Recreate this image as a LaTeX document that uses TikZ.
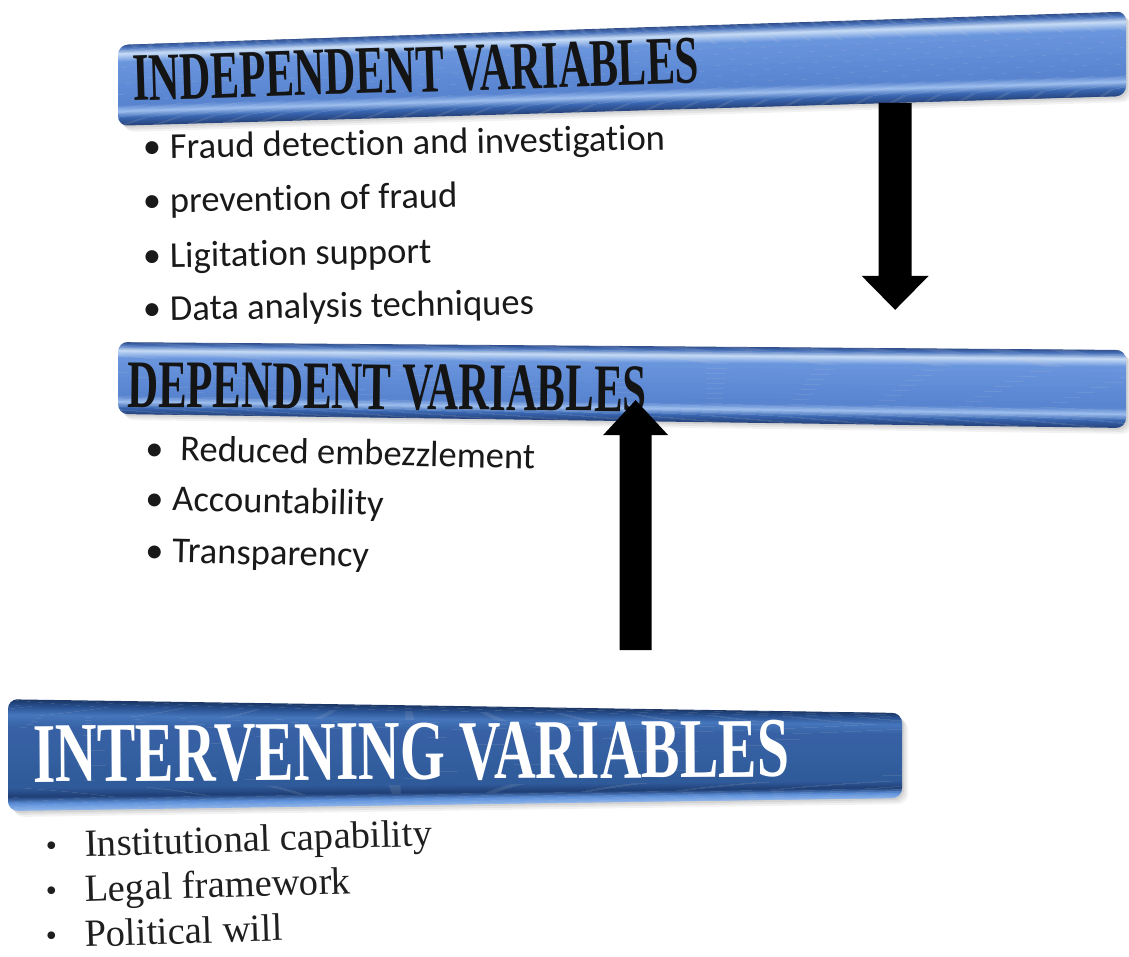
\documentclass[tikz,border=0pt]{standalone}
\usepackage{fontspec}
\usetikzlibrary{calc}
\setmainfont{Liberation Serif}
\newfontfamily\headfont{Liberation Serif}[FakeStretch=0.63]
\newfontfamily\bigheadfont{Liberation Serif}[FakeStretch=0.68]
\newfontfamily\bodysans{Carlito}[Ligatures=NoCommon]

% light blue bars
\definecolor{ibEdge}{HTML}{2E4B86}
\definecolor{ibDark}{HTML}{4A74BC}
\definecolor{ibHi}{HTML}{C8DDF7}
\definecolor{ibBody}{HTML}{6A96DE}
\definecolor{ibBodyB}{HTML}{5783CF}
\definecolor{ibHiB}{HTML}{9DBFEF}
\definecolor{ibLow}{HTML}{3A67B3}
\definecolor{ibEdgeB}{HTML}{27457E}
% dark blue bar
\definecolor{vEdge}{HTML}{1A3563}
\definecolor{vDark}{HTML}{28508F}
\definecolor{vHi}{HTML}{4676BD}
\definecolor{vBody}{HTML}{3762A5}
\definecolor{vBodyB}{HTML}{305A9A}
\definecolor{vLow}{HTML}{1F3F75}
\definecolor{vRim}{HTML}{5D90DA}
\definecolor{vRimB}{HTML}{8DB4EA}

\tikzset{
  bartitle/.style={anchor=base west, inner sep=0pt,
    font=\headfont\bfseries\fontsize{68}{68}\selectfont, text=black!92},
  bigtitle/.style={anchor=base west, inner sep=0pt,
    font=\bigheadfont\bfseries\fontsize{85}{85}\selectfont, text=white},
  sansitem/.style={anchor=base west, inner sep=0pt,
    font=\bodysans\fontsize{36.5}{36.5}\selectfont, text=black!90},
  serifitem/.style={anchor=base west, inner sep=0pt,
    font=\fontsize{38.5}{38.5}\selectfont, text=black!88},
}

% Bar with a bevelled look: bands following the slanted edges.
% #1..#4 = corners TL, TR, BR, BL; #5 = list of t0/t1/colour0/colour1
\newcommand\shadebar[5]{%
  \begin{scope}
    \clip[rounded corners=10pt] (#1) -- (#2) -- (#3) -- (#4) -- cycle;
    \foreach \ta/\tb/\ca/\cb in {#5} {
      \foreach \k in {0,...,7} {
        \pgfmathsetmacro\sa{\ta+(\tb-\ta)*\k/8}
        \pgfmathsetmacro\sb{\ta+(\tb-\ta)*(\k+1)/8+0.004}
        \pgfmathsetmacro\pc{100*(\k+0.5)/8}
        \fill[\cb!\pc!\ca]
          ($(#1)!\sa!(#4)+(-20,0)$) -- ($(#2)!\sa!(#3)+(20,0)$) --
          ($(#2)!\sb!(#3)+(20,0)$) -- ($(#1)!\sb!(#4)+(-20,0)$) -- cycle;
      }
    }
  \end{scope}
}

% Block arrow from #1 to #2: half shaft width #3, half head width #4, head length #5
\newcommand\blockarrow[5]{%
  \coordinate (ba-h) at ($(#2)!#5!(#1)$);
  \fill[black]
    ($(#1)!#3!90:(#2)$) -- ($(ba-h)!#3!-90:(#1)$) -- ($(ba-h)!#4!-90:(#1)$) --
    (#2) -- ($(ba-h)!#4!90:(#1)$) -- ($(ba-h)!#3!90:(#1)$) --
    ($(#1)!#3!-90:(#2)$) -- cycle;
}

\newcommand\sbul{\makebox[27pt][l]{•}}
\newcommand\rbul{\makebox[39pt][l]{\raisebox{2pt}{\fontsize{32}{32}\selectfont •}}}

\begin{document}
\begin{tikzpicture}[x=1pt,y=-1pt]
\useasboundingbox (0,0) rectangle (1129,957);
\fill[white] (0,0) rectangle (1129,957);

% ---------- bar corners ----------
\coordinate (iTL) at (118,45);  \coordinate (iTR) at (1126,11);
\coordinate (iBR) at (1126,96); \coordinate (iBL) at (118,126);
\coordinate (dTL) at (118,342); \coordinate (dTR) at (1126,350);
\coordinate (dBR) at (1126,428);\coordinate (dBL) at (118,414);
\coordinate (vTL) at (8,699);   \coordinate (vTR) at (902,713);
\coordinate (vBR) at (902,798); \coordinate (vBL) at (8,811);

% soft shadows
\foreach \o/\op in {6/0.05,4/0.06,2/0.07} {
  \fill[black, opacity=\op, rounded corners=10pt]
    ($(iTL)+(\o,\o)$) -- ($(iTR)+(\o,\o)$) -- ($(iBR)+(\o,\o)$) -- ($(iBL)+(\o,\o)$) -- cycle;
  \fill[black, opacity=\op, rounded corners=10pt]
    ($(dTL)+(\o,\o)$) -- ($(dTR)+(\o,\o)$) -- ($(dBR)+(\o,\o)$) -- ($(dBL)+(\o,\o)$) -- cycle;
  \fill[black, opacity=\op, rounded corners=10pt]
    ($(vTL)+(\o,\o)$) -- ($(vTR)+(\o,\o)$) -- ($(vBR)+(\o,\o)$) -- ($(vBL)+(\o,\o)$) -- cycle;
}

% ---------- bars ----------
\shadebar{iTL}{iTR}{iBR}{iBL}{0/0.05/ibEdge/ibDark, 0.05/0.12/ibDark/ibHi,
  0.12/0.22/ibHi/ibBody, 0.22/0.75/ibBody/ibBodyB, 0.75/0.83/ibBodyB/ibHiB,
  0.83/0.91/ibHiB/ibLow, 0.91/1/ibLow/ibEdgeB}
\shadebar{dTL}{dTR}{dBR}{dBL}{0/0.05/ibEdge/ibDark, 0.05/0.12/ibDark/ibHi,
  0.12/0.22/ibHi/ibBody, 0.22/0.75/ibBody/ibBodyB, 0.75/0.83/ibBodyB/ibHiB,
  0.83/0.91/ibHiB/ibLow, 0.91/1/ibLow/ibEdgeB}
\shadebar{vTL}{vTR}{vBR}{vBL}{0/0.06/vEdge/vDark, 0.06/0.14/vDark/vHi,
  0.14/0.25/vHi/vBody, 0.25/0.80/vBody/vBodyB, 0.80/0.88/vBodyB/vLow,
  0.88/0.94/vLow/vRim, 0.94/1/vRim/vRimB}

% ---------- titles ----------
\node[bartitle, rotate=1.8] (indep) at (133,101) {INDEPENDENT VARIABLES};
\node[bartitle, rotate=-0.5] (dep) at (127,407) {DEPENDENT VARIABLES};
\node[bigtitle, rotate=0.4] (interv) at (33,782) {INTERVENING VARIABLES};

% ---------- independent items ----------
\node[sansitem, rotate=1] (ind1) at (143,159) {\sbul Fraud detection and investigation};
\node[sansitem, rotate=1] (ind2) at (143,213) {\sbul prevention of fraud};
\node[sansitem, rotate=1] (ind3) at (143,268) {\sbul Ligitation support};
\node[sansitem, rotate=1] (ind4) at (143,321) {\sbul Data analysis techniques};

% ---------- dependent items ----------
\node[sansitem, rotate=-1.3] (dep1) at (145,460) {\makebox[35pt][l]{•}Reduced embezzlement};
\node[sansitem, rotate=-1.3] (dep2) at (145,510) {\sbul Accountability};
\node[sansitem, rotate=-1.3] (dep3) at (145,562) {\sbul Transparency};

% ---------- intervening items ----------
\node[serifitem, rotate=1.8] (int1) at (46,858) {\rbul Institutional capability};
\node[serifitem, rotate=1.8] (int2) at (46,903) {\rbul Legal framework};
\node[serifitem, rotate=1.8] (int3) at (46,948) {\rbul Political will};

% ---------- arrows ----------
\coordinate (dnstart) at ($(iBL)!0.771!(iBR)$);
\coordinate (dntip) at ($(dnstart)+(0,207)$);
\blockarrow{dnstart}{dntip}{16.5pt}{33.5pt}{34pt}

\coordinate (uptip) at ($(dTL)!0.5135!(dTR)+(0,54)$);
\coordinate (upbase) at ($(uptip)+(0,250)$);
\blockarrow{upbase}{uptip}{16pt}{32.5pt}{35pt}
\end{tikzpicture}
\end{document}
